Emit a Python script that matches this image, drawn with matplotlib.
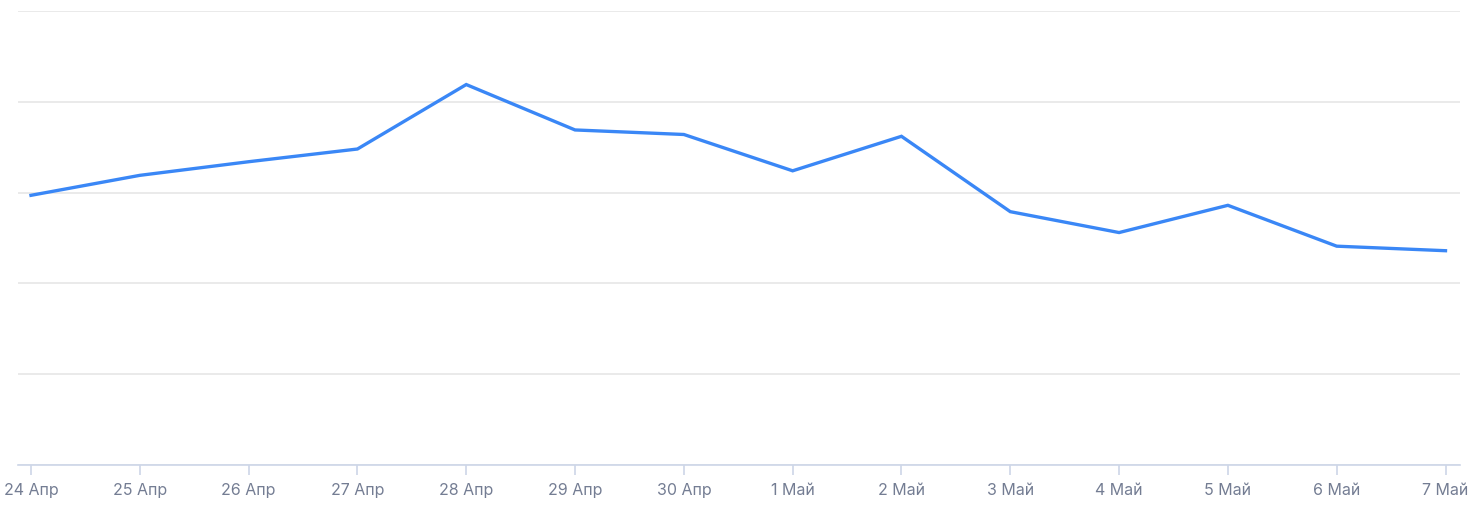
import matplotlib
matplotlib.use("Agg")
import matplotlib.pyplot as plt

# Data
dates = ["24 Апр", "25 Апр", "26 Апр", "27 Апр", "28 Апр", "29 Апр", "30 Апр",
         "1 Май", "2 Май", "3 Май", "4 Май", "5 Май", "6 Май", "7 Май"]
values = [297, 319, 334, 348, 419, 369, 364, 324, 362, 279, 256, 286, 241, 236]
y_grid = [0, 100, 200, 300, 400, 500]


def main():
    plt.rcParams['font.family'] = ['Inter', 'DejaVu Sans']
    fig = plt.figure(figsize=(14.72, 5.12), dpi=100)
    W, H = 1472, 512
    left, right, top, bottom = 18, 1460, 11, 465
    ax = fig.add_axes([left / W, 1 - bottom / H, (right - left) / W, (bottom - top) / H])

    x = list(range(len(dates)))
    ax.plot(x, values, color='#3a87f6', linewidth=2.4, solid_joinstyle='miter', zorder=3)

    px = (1445.5 - 31) / (len(dates) - 1)
    ax.set_xlim(-(31 - left) / px, len(dates) - 1 + (right - 1445.5) / px)
    ax.set_ylim(0, 500)

    ax.set_yticks(y_grid)
    ax.set_yticklabels([])
    ax.tick_params(axis='y', length=0)
    ax.grid(axis='y', color='#e6e6e6', linewidth=1.2)
    ax.set_axisbelow(True)

    ax.set_xticks(x)
    ax.set_xticklabels(dates, fontsize=11.5, color='#747d93')
    ax.tick_params(axis='x', length=7, width=1.2, color='#cdd6e8', pad=6)

    for s in ['top', 'right', 'left']:
        ax.spines[s].set_visible(False)
    ax.spines['bottom'].set_color('#cdd6e8')
    ax.spines['bottom'].set_linewidth(1.2)

    fig.savefig('out.png', dpi=100, facecolor='white')
    plt.close(fig)


if __name__ == "__main__":
    main()
